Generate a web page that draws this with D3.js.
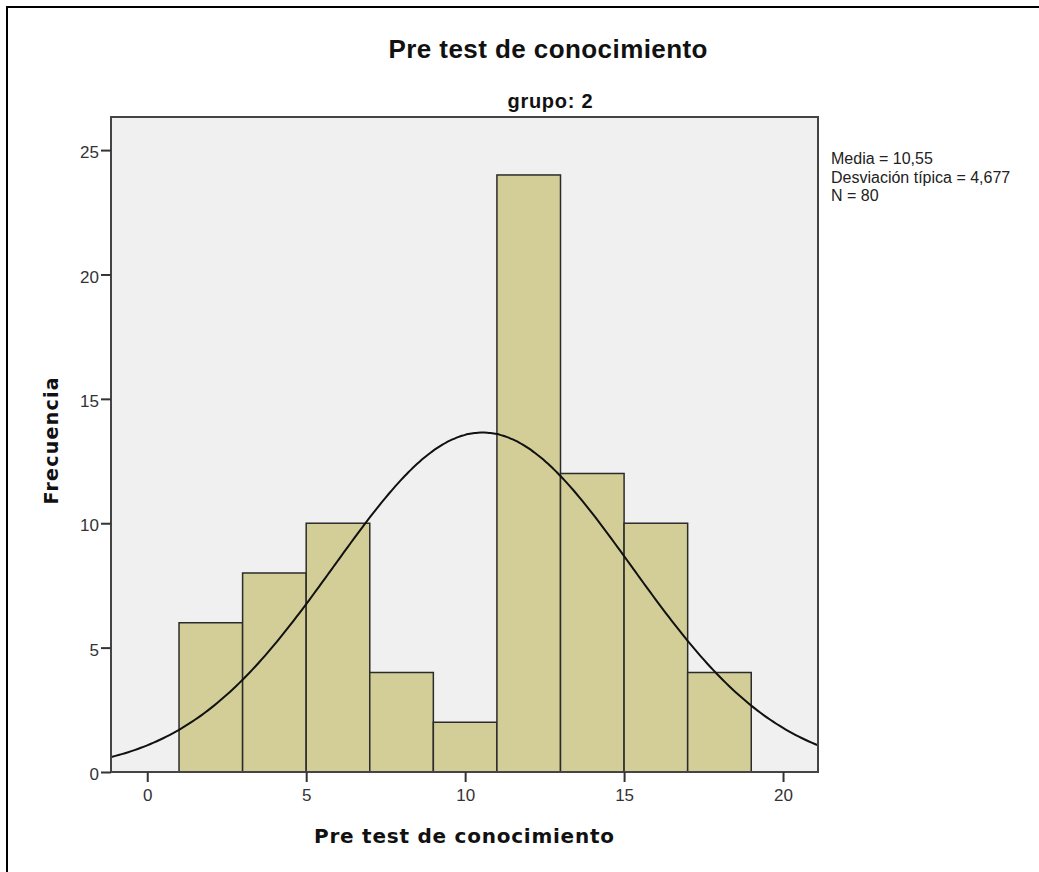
<!DOCTYPE html>
<html>
<head>
<meta charset="utf-8">
<script src="https://cdn.jsdelivr.net/npm/d3@7"></script>
<style>
  body { margin: 0; background: #fff; }
  svg { display: block; }
</style>
</head>
<body>
<svg id="chart" width="1039" height="872"></svg>
<script>
// histogram bins (lower edge, upper edge) and counts
var binStart = [1, 3, 5, 7, 9, 11, 13, 15, 17];
var binEnd   = [3, 5, 7, 9, 11, 13, 15, 17, 19];
var counts   = [6, 8, 10, 4, 2, 24, 12, 10, 4];
var xTicks = [0, 5, 10, 15, 20];
var yTicks = [0, 5, 10, 15, 20, 25];
var stats = ["Media = 10,55", "Desviación típica = 4,677", "N = 80"];
var mean = 10.55, sd = 4.677, n = 80;

var svg = d3.select("#chart");
var sans = "'Liberation Sans', Arial, sans-serif";
var wide = "'DejaVu Sans', Verdana, sans-serif";

// outer frame
svg.append("rect")
    .attr("x", 7).attr("y", 7)
    .attr("width", 1045).attr("height", 880)
    .attr("fill", "none").attr("stroke", "#000").attr("stroke-width", 2);

var plot = {left: 111, top: 117, right: 818, bottom: 772};

var x = d3.scaleLinear().domain([-1.14, 21.1]).range([plot.left, plot.right]);
var y = d3.scaleLinear().domain([0, 26.33]).range([plot.bottom, plot.top]);

// plot background
svg.append("rect")
    .attr("x", plot.left).attr("y", plot.top)
    .attr("width", plot.right - plot.left).attr("height", plot.bottom - plot.top)
    .attr("fill", "#f0f0f0");

svg.append("defs").append("clipPath").attr("id", "clip")
    .append("rect")
    .attr("x", plot.left).attr("y", plot.top)
    .attr("width", plot.right - plot.left).attr("height", plot.bottom - plot.top);

// bars
svg.append("g").selectAll("rect")
    .data(counts)
    .join("rect")
    .attr("x", (d, i) => x(binStart[i]))
    .attr("y", d => y(d))
    .attr("width", (d, i) => x(binEnd[i]) - x(binStart[i]))
    .attr("height", d => y(0) - y(d))
    .attr("fill", "#d3ce98")
    .attr("stroke", "#2b2b2b")
    .attr("stroke-width", 1.5);

// fitted normal curve from the mean / sd / N shown
var bw = 2;
var curvePts = d3.range(-1.2, 21.2, 0.1).map(v => [v,
    n * bw * Math.exp(-0.5 * Math.pow((v - mean) / sd, 2)) / (sd * Math.sqrt(2 * Math.PI))]);

svg.append("path")
    .attr("clip-path", "url(#clip)")
    .attr("d", d3.line().x(d => x(d[0])).y(d => y(d[1])).curve(d3.curveBasis)(curvePts))
    .attr("fill", "none")
    .attr("stroke", "#111")
    .attr("stroke-width", 2);

// plot border
svg.append("rect")
    .attr("x", plot.left).attr("y", plot.top)
    .attr("width", plot.right - plot.left).attr("height", plot.bottom - plot.top)
    .attr("fill", "none").attr("stroke", "#444").attr("stroke-width", 2);

// axes
var xAxis = svg.append("g")
    .attr("transform", `translate(0,${plot.bottom})`)
    .call(d3.axisBottom(x).tickValues(xTicks).tickSize(10).tickPadding(7));
var yAxis = svg.append("g")
    .attr("transform", `translate(${plot.left},0)`)
    .call(d3.axisLeft(y).tickValues(yTicks).tickSize(10).tickPadding(2));

[xAxis, yAxis].forEach(g => {
    g.select(".domain").remove();
    g.selectAll("line").attr("stroke", "#333").attr("stroke-width", 2);
    g.selectAll("text").attr("fill", "#333").style("font-family", sans).style("font-size", "17px");
});
yAxis.selectAll("text").attr("dy", "0.45em");

// titles
svg.append("text")
    .attr("x", 548).attr("y", 58)
    .attr("text-anchor", "middle")
    .style("font-family", sans).style("font-size", "26px").style("font-weight", "bold")
    .attr("fill", "#111")
    .attr("textLength", 319)
    .text("Pre test de conocimiento");

svg.append("text")
    .attr("x", 550).attr("y", 108)
    .attr("text-anchor", "middle")
    .style("font-family", sans).style("font-size", "20px").style("font-weight", "bold")
    .attr("fill", "#111")
    .attr("textLength", 85)
    .text("grupo: 2");

svg.append("text")
    .attr("x", 464).attr("y", 843)
    .attr("text-anchor", "middle")
    .style("font-family", wide).style("font-size", "20px").style("font-weight", "bold")
    .attr("fill", "#111")
    .attr("textLength", 300)
    .text("Pre test de conocimiento");

svg.append("text")
    .attr("transform", "translate(58,441) rotate(-90)")
    .attr("text-anchor", "middle")
    .style("font-family", wide).style("font-size", "19px").style("font-weight", "bold")
    .attr("fill", "#111")
    .attr("textLength", 127)
    .text("Frecuencia");

// stats box
svg.append("g").selectAll("text")
    .data(stats)
    .join("text")
    .attr("x", 831)
    .attr("y", (d, i) => 164 + i * 18.5)
    .style("font-family", sans).style("font-size", "16px")
    .attr("fill", "#222")
    .text(d => d);
</script>
</body>
</html>
